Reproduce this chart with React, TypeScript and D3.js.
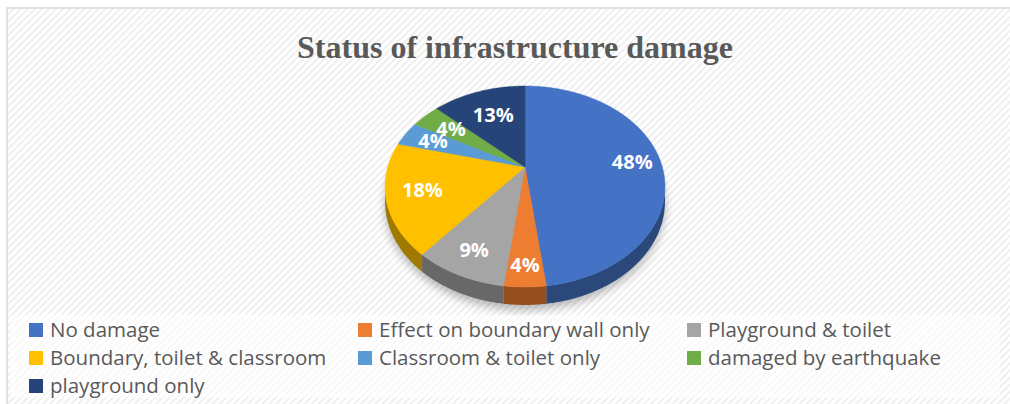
import React, {useMemo} from 'react';
import * as d3 from 'd3';

// chart data
const categories = [
  'No damage',
  'Effect on boundary wall only',
  'Playground & toilet',
  'Boundary, toilet & classroom',
  'Classroom & toilet only',
  'damaged by earthquake',
  'playground only',
];
const values = [48, 4, 9, 18, 4, 4, 13];
const colors = ['#4472C4', '#ED7D31', '#A5A5A5', '#FFC000', '#5B9BD5', '#70AD47', '#264478'];
const title = 'Status of infrastructure damage';

const W = 1010;
const H = 404;

// perspective pie geometry
const cx = 525;
const cy = 167;
const K = 0.194;
const A = 137.3;
const B = 96.7;
const DEPTH = 14.5;
const labelR = [0.79, 0.85, 0.8, 0.75, 0.76, 0.72, 0.65];

const project = (r: number, a: number, h = 0): [number, number] => {
  const u = r * Math.sin(a);
  const v = -r * Math.cos(a);
  const d = 1 - K * v;
  return [cx + (A * u) / d, cy + (B * v + h) / d];
};

const arcPoints = (a0: number, a1: number, h = 0) => {
  const n = Math.max(2, Math.ceil((a1 - a0) / 0.01));
  return d3.range(n + 1).map(i => project(1, a0 + ((a1 - a0) * i) / n, h));
};

const line = d3.line();

const App: React.FC = () => {
  const arcs = useMemo(() => d3.pie<number>().sort(null).value(d => d)(values), []);

  const frontA0 = Math.acos(-K);
  const frontA1 = 2 * Math.PI - frontA0;

  const legendX = d3.scaleOrdinal<number, number>().domain([0, 1, 2]).range([29, 358, 687]);
  const legendY = d3.scaleLinear().domain([0, 1]).range([330, 358]);

  return (
    <svg width={W} height={H} style={{position: 'absolute', left: 0, top: 0}}>
      <defs>
        <pattern id="hatch" width="5" height="5" patternUnits="userSpaceOnUse"
                 patternTransform="rotate(45)">
          <rect width="5" height="5" fill="#ffffff"/>
          <rect width="2" height="5" fill="#efefef"/>
        </pattern>
        <filter id="shadow" x="-20%" y="-20%" width="140%" height="140%">
          <feGaussianBlur stdDeviation="5"/>
        </filter>
      </defs>
      <rect width={W} height={H} fill="#fff"/>
      <rect x={7} y={8} width={W} height={H} fill="url(#hatch)" stroke="#d9d9d9" strokeWidth={1.5}/>

      <text x={515} y={58} textAnchor="middle" fontFamily="'Liberation Serif', 'Times New Roman', serif"
            fontWeight="bold" fontSize={31} fill="#595959" textLength={436} lengthAdjust="spacingAndGlyphs">
        {title}
      </text>

      {/* shadow */}
      <path d={line(arcPoints(0, 2 * Math.PI, DEPTH + 4)) + 'Z'} fill="#000" opacity={0.28}
            filter="url(#shadow)"/>

      {/* side walls */}
      {arcs.map((a, i) => {
        const s = Math.max(a.startAngle, frontA0);
        const e = Math.min(a.endAngle, frontA1);
        if (e <= s) return null;
        const top = arcPoints(s, e);
        const bottom = arcPoints(s, e, DEPTH).reverse();
        return (
          <path key={`side-${i}`} d={line([...top, ...bottom]) + 'Z'}
                fill={d3.color(colors[i])!.darker(1.3).formatHex()}/>
        );
      })}

      {/* top faces */}
      {arcs.map((a, i) => (
        <path key={`top-${i}`} d={line([[cx, cy], ...arcPoints(a.startAngle, a.endAngle)]) + 'Z'}
              fill={colors[i]} stroke={colors[i]} strokeWidth={0.5}/>
      ))}

      {/* data labels */}
      {arcs.map((a, i) => {
        const [x, y] = project(labelR[i], (a.startAngle + a.endAngle) / 2);
        return (
          <text key={`lbl-${i}`} x={x} y={y} dy="0.35em" textAnchor="middle"
                fontFamily="'Open Sans', sans-serif" fontWeight="bold" fontSize={20} fill="#fff">
            {`${values[i]}%`}
          </text>
        );
      })}

      {/* legend */}
      <rect x={10} y={315} width={990} height={83} fill="#fff" opacity={0.6}/>
      {categories.map((c, i) => {
        const col = i % 3;
        const row = Math.floor(i / 3);
        const x = legendX(col);
        const y = legendY(row);
        return (
          <g key={`leg-${i}`} transform={`translate(${x},${y})`}>
            <rect x={0} y={-7} width={14} height={14} fill={colors[i]}/>
            <text x={21} y={0} dy="0.35em" fontFamily="'Open Sans', sans-serif" fontSize={20.5}
                  fill="#595959">{c}</text>
          </g>
        );
      })}
    </svg>
  );
};

export default App;
